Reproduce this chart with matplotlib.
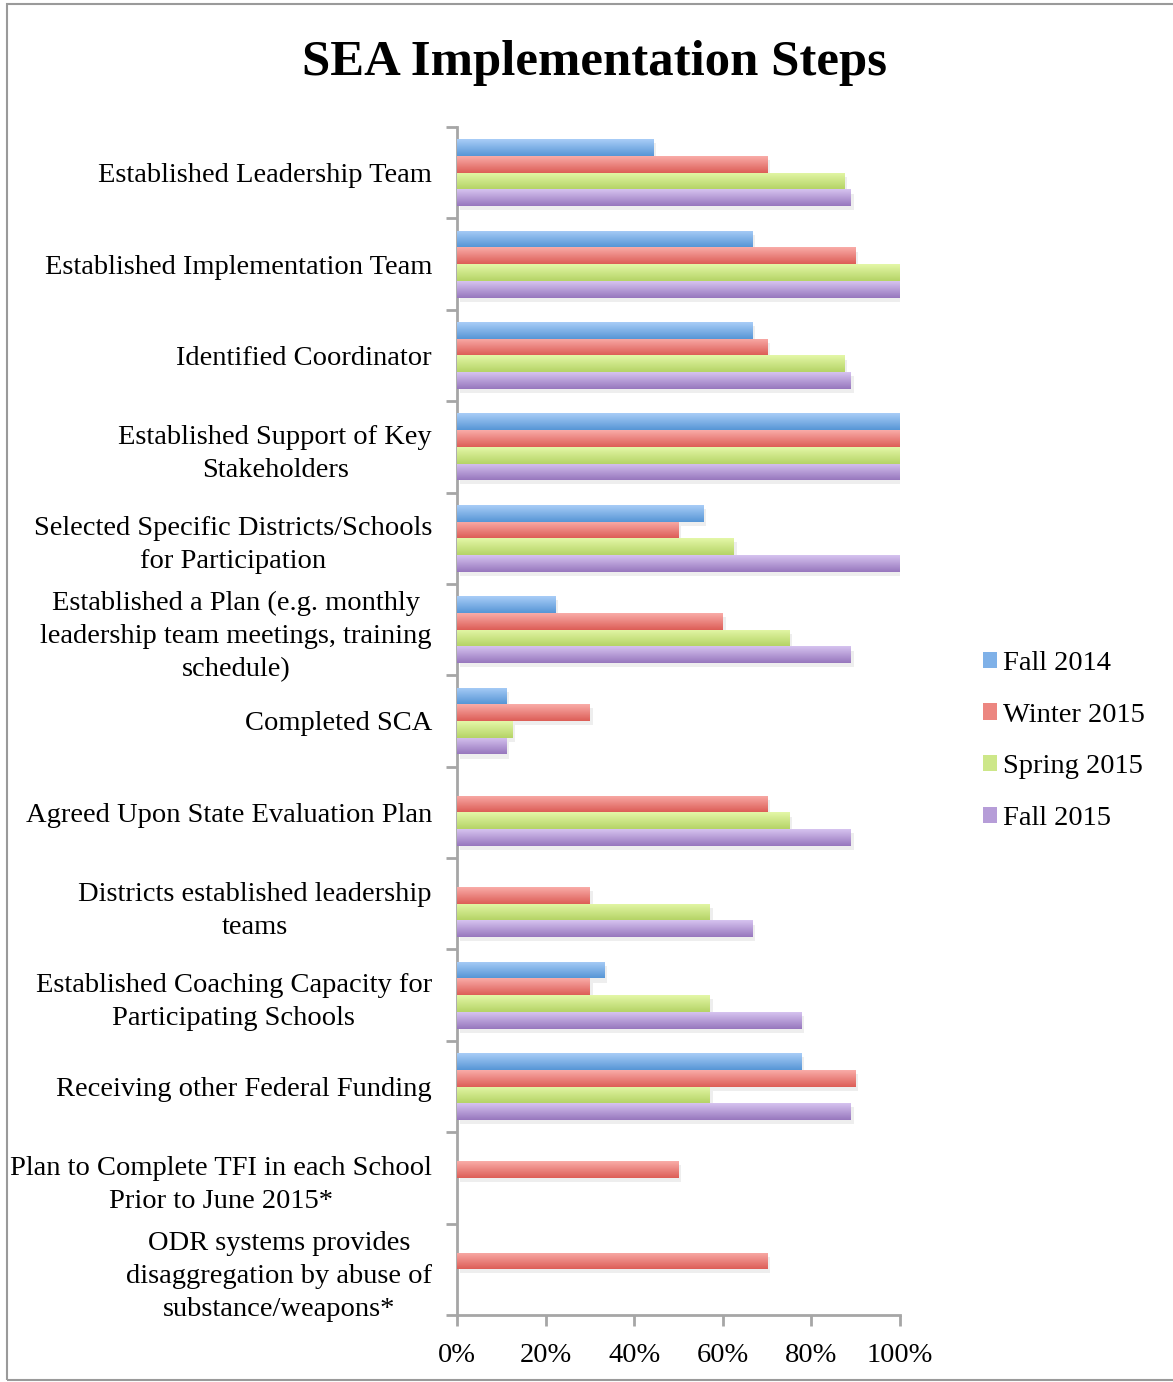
import matplotlib.pyplot as plt
import numpy as np
from matplotlib import patheffects
from matplotlib.colors import LinearSegmentedColormap
from matplotlib.patches import Rectangle, Patch

plt.rcParams['font.family'] = ['Liberation Serif', 'DejaVu Serif']

categories = [
    "Established Leadership Team",
    "Established Implementation Team",
    "Identified Coordinator",
    "Established Support of Key\nStakeholders",
    "Selected Specific Districts/Schools\nfor Participation",
    "Established a Plan (e.g. monthly\nleadership team meetings, training\nschedule)",
    "Completed SCA",
    "Agreed Upon State Evaluation Plan",
    "Districts established leadership\nteams",
    "Established Coaching Capacity for\nParticipating Schools",
    "Receiving other Federal Funding",
    "Plan to Complete TFI in each School\nPrior to June 2015*",
    "ODR systems provides\ndisaggregation by abuse of\nsubstance/weapons*",
]
series = ["Fall 2014", "Winter 2015", "Spring 2015", "Fall 2015"]
fall_2014 = [0.444, 0.667, 0.667, 1.0, 0.556, 0.222, 0.111, 0, 0, 0.333, 0.778, 0, 0]
winter_2015 = [0.70, 0.90, 0.70, 1.0, 0.50, 0.60, 0.30, 0.70, 0.30, 0.30, 0.90, 0.50, 0.70]
spring_2015 = [0.875, 1.0, 0.875, 1.0, 0.625, 0.75, 0.125, 0.75, 0.571, 0.571, 0.571, 0, 0]
fall_2015 = [0.889, 1.0, 0.889, 1.0, 1.0, 0.889, 0.111, 0.889, 0.667, 0.778, 0.889, 0, 0]
xticks = [0, 0.2, 0.4, 0.6, 0.8, 1.0]
xtick_labels = ["0%", "20%", "40%", "60%", "80%", "100%"]

# (top colour, bottom colour) for the gradient fill
grads = [("#a9cdf7", "#5796d6"), ("#f9aca8", "#dd5e57"),
         ("#e4f7a8", "#b5d466"), ("#d6c3f0", "#9777bd")]
mids = ["#7fb1e8", "#ec8680", "#cde789", "#b69dd8"]

W, H = 1173, 1382
fig = plt.figure(figsize=(W / 100, H / 100), dpi=100)
ax = fig.add_axes([457 / W, 67 / H, 443 / W, 1188 / H])

n = len(categories)
y = np.arange(n)
bh = 0.183
data = [fall_2014, winter_2015, spring_2015, fall_2015]
grad_img = np.linspace(0, 1, 64).reshape(-1, 1)
for i, vals in enumerate(data):
    offs = (i - 1.5) * bh
    bars = ax.barh(y + offs, vals, height=bh, color=mids[i], zorder=2,
                   path_effects=[patheffects.SimplePatchShadow(offset=(2, -3), shadow_rgbFace='#aaaaaa', alpha=0.2),
                                 patheffects.Normal()])
    cmap = LinearSegmentedColormap.from_list("g%d" % i, [grads[i][0], grads[i][1]])
    for b, v in zip(bars, vals):
        if v <= 0:
            b.set_visible(False)
            continue
        y0 = b.get_y()
        im = ax.imshow(grad_img, cmap=cmap, aspect='auto', zorder=3,
                       extent=[0, v, y0 + bh, y0], interpolation='bilinear')
        im.set_clip_path(b)

ax.set_xlim(0, 1)
ax.set_ylim(n - 0.5, -0.5)

spine_c = "#a6a6a6"
for s in ["top", "right"]:
    ax.spines[s].set_visible(False)
for s in ["left", "bottom"]:
    ax.spines[s].set_color(spine_c)
    ax.spines[s].set_linewidth(2)

ax.set_xticks(xticks, xtick_labels)
ax.tick_params(axis='x', length=8, width=2, color=spine_c, labelsize=20.5, pad=12)
ax.set_yticks(np.arange(n + 1) - 0.5, [""] * (n + 1))
ax.tick_params(axis='y', which='major', length=8, width=2, color=spine_c)
ax.set_yticks(y, categories, minor=True)
ax.tick_params(axis='y', which='minor', length=0, pad=18, labelsize=20.5)
for lab in ax.get_yticklabels(minor=True):
    lab.set_multialignment('center')
    lab.set_linespacing(1.42)

fig.text(595 / W, 1 - 63 / H, "SEA Implementation Steps", ha='center', va='center',
         fontsize=36.5, fontweight='bold')

handles = [Patch(facecolor=mids[i], label=series[i]) for i in range(4)]
fig.legend(handles=handles, loc='center left', bbox_to_anchor=(983 / W, 1 - 741 / H),
           frameon=False, fontsize=20.5, handlelength=0.5, handleheight=0.5,
           handletextpad=0.2, labelspacing=0.94, borderpad=0, borderaxespad=0)

fig.add_artist(Rectangle((7 / W, 2 / H), 1.2, 1 - 6 / H, transform=fig.transFigure,
                         fill=False, edgecolor="#9a9a9a", linewidth=1.5))

fig.savefig("out.png", dpi=100)
